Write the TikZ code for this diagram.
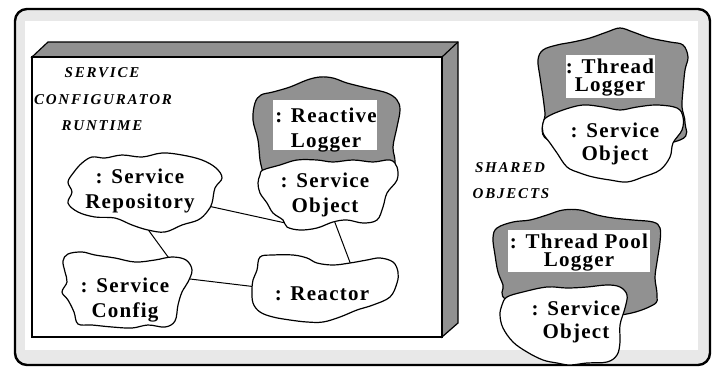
\documentclass[tikz,border=0pt]{standalone}
\usepackage{fontspec}
\setmainfont{Liberation Serif}
\newfontfamily\lblfont[LetterSpace=6]{Liberation Serif}
\newfontfamily\capfont[LetterSpace=12]{Liberation Serif}
\definecolor{hatch}{RGB}{145,145,145}
\definecolor{framegrey}{RGB}{232,232,232}
\begin{document}
\begin{tikzpicture}[x=1pt,y=-1pt,
  cloudshape/.style={draw=black, line width=1.2pt, fill=white},
  shadeshape/.style={draw=black, line width=1.2pt, fill=hatch},
  lbl/.style={font=\lblfont\fontsize{21}{25}\selectfont\bfseries, align=center, inner sep=0pt},
  midlbl/.style={font=\lblfont\fontsize{21}{23}\selectfont\bfseries, align=center, inner sep=0pt},
  tightlbl/.style={font=\lblfont\fontsize{21}{18}\selectfont\bfseries, align=center, inner sep=0pt},
  captext/.style={font=\capfont\fontsize{15}{17}\selectfont\bfseries\itshape, inner sep=0pt, anchor=base},
  link/.style={line width=1pt}]
\useasboundingbox (0,0) rectangle (715,370);
% frame
\draw[line width=2.4pt, fill=framegrey, rounded corners=12pt] (15,9) rectangle (710,365);
\fill[white] (25,21) rectangle (698,350);
% 3D box
\filldraw[shadeshape] (32,57) -- (48,42) -- (458,42) -- (458,323) -- (442,337) -- (442,57) -- cycle;
\draw[line width=1.2pt, fill=white] (32,57) rectangle (442,337);
\draw[line width=1.2pt] (442,57) -- (458,42);
% captions
\node[captext] (c1) at (102,77.5) {SERVICE};
\node[captext] (c2) at (103,104) {CONFIGURATOR};
\node[captext] (c3) at (102,130.5) {RUNTIME};
\node[captext] (s1) at (510,172.5) {SHARED};
\node[captext] (s2) at (511,198.5) {OBJECTS};
% connector end points
\coordinate (repR) at (208,206);
\coordinate (objL) at (290,224);
\coordinate (repB) at (144,224);
\coordinate (cfgT) at (171,261);
\coordinate (cfgR) at (190,279);
\coordinate (reaL) at (257,287);
\coordinate (objB) at (334,220);
\coordinate (reaT) at (351,265);
\draw[link] (repR) -- (objL);
\draw[link] (repB) -- (cfgT);
\draw[link] (cfgR) -- (reaL);
\draw[link] (objB) -- (reaT);
% Service Repository
\draw[cloudshape] plot[smooth cycle, tension=0.6] coordinates {(82,163) (92,157) (105,158) (122,155) (142,157) (162,153) (182,155) (202,160) (216,168) (222,178) (215,188) (212,203) (207,212) (198,220) (182,225) (165,232) (148,230) (132,225) (115,218) (95,217) (78,212) (68,203) (72,192) (68,182) (74,172)};
\node[lbl] (rep) at (140,190.7) {: Service\\Repository};
% Service Config
\draw[cloudshape] plot[smooth cycle, tension=0.6] coordinates {(68,254) (82,252) (95,255) (115,258) (135,262) (155,260) (172,257) (186,260) (192,270) (188,282) (182,292) (178,305) (175,321) (165,327) (148,325) (132,328) (112,327) (92,325) (78,324) (74,312) (68,300) (62,292) (67,282) (65,272) (63,261)};
\node[lbl] (cfg) at (125,299.6) {: Service\\Config};
% Reactor
\draw[cloudshape] plot[smooth cycle, tension=0.6] coordinates {(260,257) (273,255) (293,255) (307,258) (317,263) (333,265) (350,263) (367,260) (380,258) (393,262) (398,272) (397,283) (390,297) (373,305) (357,310) (340,317) (323,322) (307,322) (290,320) (273,317) (260,312) (253,303) (252,290) (253,280) (257,270)};
\node[lbl, anchor=base] (rea) at (322,300) {: Reactor};
% Reactive Logger
\draw[shadeshape] plot[smooth cycle, tension=0.6] coordinates {(255,103) (261,95) (273,92) (290,87) (307,80) (320,77) (333,78) (347,83) (367,88) (387,93) (397,100) (400,110) (397,127) (393,147) (395,163) (390,185) (330,190) (265,185) (263,173) (260,160) (258,140) (253,120)};
\fill[white] (273,100) rectangle (377,150);
\node[lbl] (rl) at (326,130.1) {: Reactive\\Logger};
\draw[cloudshape] plot[smooth cycle, tension=0.6] coordinates {(263,170) (280,165) (297,160) (317,160) (333,162) (353,160) (373,162) (390,160) (397,167) (397,180) (387,193) (383,207) (377,220) (363,223) (347,220) (333,222) (317,228) (300,230) (287,227) (283,220) (273,213) (267,203) (260,193) (258,183) (260,175)};
\node[lbl] (rso) at (325,194.6) {: Service\\Object};
% Thread Logger
\draw[shadeshape] plot[smooth cycle, tension=0.6] coordinates {(538,60) (543,50) (557,45) (573,42) (590,38) (607,32) (620,28) (633,32) (650,38) (670,42) (683,45) (688,57) (685,70) (683,90) (682,107) (685,123) (680,140) (615,150) (548,140) (545,113) (543,97) (540,77)};
\fill[white] (566,55) rectangle (655,98);
\node[tightlbl] (tl) at (610,77.6) {: Thread\\Logger};
\draw[cloudshape] plot[smooth cycle, tension=0.6] coordinates {(547,117) (563,110) (583,105) (603,107) (620,110) (637,107) (657,105) (677,108) (683,117) (682,130) (673,143) (670,157) (660,170) (643,177) (627,182) (610,180) (593,177) (580,173) (567,167) (557,153) (550,143) (543,133) (543,123)};
\node[midlbl] (tso) at (615,143.6) {: Service\\Object};
% Thread Pool Logger
\draw[shadeshape] plot[smooth cycle, tension=0.6] coordinates {(493,238) (497,228) (513,222) (530,220) (547,215) (563,210) (580,210) (597,215) (613,218) (633,220) (653,222) (660,228) (660,242) (657,262) (655,278) (657,295) (653,305) (620,315) (560,315) (507,300) (503,285) (498,272) (495,255)};
\fill[white] (508,230) rectangle (650,272);
\node[tightlbl] (tpl) at (579,252.6) {: Thread Pool\\Logger};
\draw[cloudshape] plot[smooth cycle, tension=0.6] coordinates {(507,297) (523,292) (547,287) (567,288) (587,287) (607,285) (620,287) (627,295) (625,308) (620,325) (620,342) (617,355) (607,362) (587,363) (570,365) (557,363) (543,360) (527,352) (513,342) (503,328) (500,315) (502,305)};
\node[midlbl] (pso) at (576,322) {: Service\\Object};
\end{tikzpicture}
\end{document}
